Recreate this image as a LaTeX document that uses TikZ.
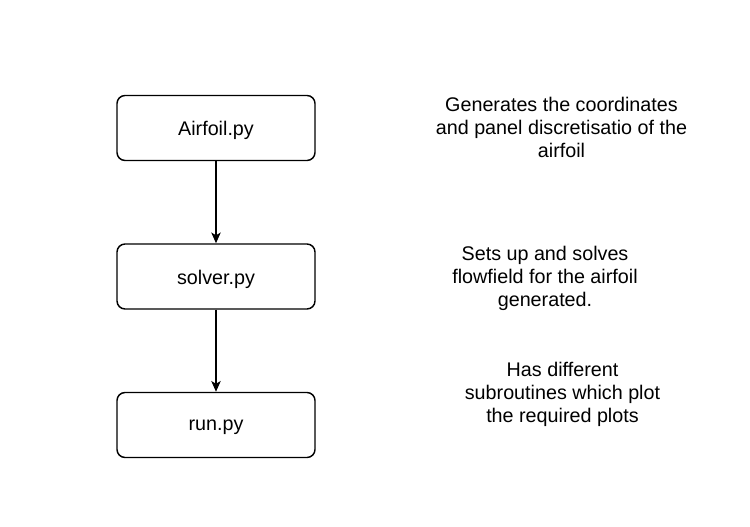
\documentclass[tikz,border=0pt]{standalone}
\usepackage{fontspec}
\setmainfont{Liberation Sans}
\usetikzlibrary{arrows.meta}
\begin{document}
\begin{tikzpicture}[x=0.75pt,y=-0.75pt,
  every node/.style={font=\fontsize{14.8pt}{17.4pt}\selectfont, text=black},
  filebox/.style={draw=black, line width=1.1pt, rounded corners=6pt, minimum width=148.5pt, minimum height=48.75pt, inner sep=0pt, fill=white},
  boxtext/.style={yshift=-2pt, inner sep=0pt},
  note/.style={align=center, inner sep=0pt, anchor=base},
  flow/.style={draw=black, line width=1.1pt, -{Stealth[length=8pt,width=7pt,inset=2pt]}}]
\useasboundingbox (0,0) rectangle (750,527);
\node[filebox, label={[boxtext]center:Airfoil.py}] (airfoil) at (216,128) {};
\node[filebox, label={[boxtext]center:solver.py}] (solver) at (216,276.5) {};
\node[filebox, label={[boxtext]center:run.py}] (run) at (216,425) {};
\draw[flow] (airfoil) -- (solver);
\draw[flow] (solver) -- (run);
\node[note] (n1) at (561.5,157.5) {Generates the coordinates\\and panel discretisatio of the\\airfoil};
\node[note] (n2) at (545,306.5) {Sets up and solves\\flowfield for the airfoil\\generated.};
\node[note] (n3) at (562.5,422.5) {Has different\\subroutines which plot\\the required plots};
\end{tikzpicture}
\end{document}
